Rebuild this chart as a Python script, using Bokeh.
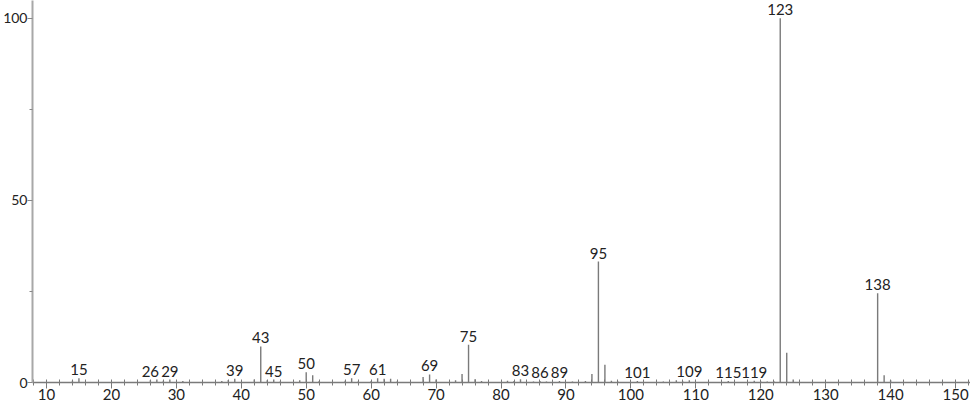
from bokeh.plotting import figure
from bokeh.models import ColumnDataSource, Range1d, FixedTicker
from bokeh.core.properties import value
from bokeh.embed import file_html
from bokeh.resources import INLINE

# m/z values and relative intensities
mz = [14, 15, 26, 27, 28, 29, 31, 37, 38, 39, 42, 43, 44, 45, 46, 49, 50, 51, 52,
      56, 57, 58, 60, 61, 62, 63, 64, 68, 69, 70, 73, 74, 75, 76, 77, 81, 82, 83,
      85, 86, 87, 89, 91, 93, 94, 95, 96, 97, 98, 101, 105, 107, 108, 109, 115,
      119, 120, 121, 122, 123, 124, 125, 138, 139, 140]
intensity = [0.5, 1.2, 0.6, 0.8, 0.5, 0.8, 0.4, 0.4, 0.7, 1.0, 0.8, 9.9, 0.6, 0.8, 0.3,
             0.6, 2.8, 2.0, 0.4, 0.5, 1.2, 0.3, 0.4, 1.2, 1.0, 1.0, 0.3, 1.5, 2.2, 0.8,
             0.6, 2.3, 10.4, 0.9, 0.4, 0.5, 0.4, 0.9, 0.3, 0.4, 0.3, 0.4, 0.3, 0.4, 2.3,
             33.2, 4.9, 0.5, 0.3, 0.4, 0.3, 0.6, 0.3, 0.6, 0.4, 0.5, 0.3, 0.3, 0.4,
             100.0, 8.2, 0.8, 24.5, 2.0, 0.6]
labeled_mz = [15, 26, 29, 39, 43, 45, 50, 57, 61, 69, 75, 83, 86, 89, 95, 101, 109,
              115, 119, 123, 138]
x_ticks = [10, 20, 30, 40, 50, 60, 70, 80, 90, 100, 110, 120, 130, 140, 150]
y_ticks = [0, 50, 100]

FONT = "Lato"

peaks = ColumnDataSource(dict(x=mz, y0=[0] * len(mz), y=intensity))
lab_int = [intensity[mz.index(m)] for m in labeled_mz]
labels = ColumnDataSource(dict(x=labeled_mz, y=lab_int, t=[str(m) for m in labeled_mz]))

p = figure(width=970, height=402, output_backend="svg", toolbar_location=None,
           x_range=Range1d(7.85, 152.3), y_range=Range1d(0, 104.9),
           min_border_left=8, min_border_right=0, min_border_top=0, min_border_bottom=0)
p.outline_line_color = None
p.xgrid.visible = False
p.ygrid.visible = False
p.background_fill_color = "white"
p.border_fill_color = "white"

p.segment(x0="x", y0="y0", x1="x", y1="y", source=peaks,
          line_color="#7a7a7a", line_width=1.4)
p.text(x="x", y="y", text="t", source=labels, y_offset=-3,
       text_align="center", text_baseline="bottom",
       text_font=value(FONT), text_font_size="15px", text_color="#222222")

xa = p.xaxis[0]
xa.ticker = FixedTicker(ticks=x_ticks, minor_ticks=list(range(8, 153, 2)))
xa.axis_line_color = "#7a7a7a"
xa.axis_line_width = 1.3
xa.major_tick_line_color = "#7a7a7a"
xa.major_tick_in = 0
xa.major_tick_out = 6
xa.minor_tick_line_color = "#7a7a7a"
xa.minor_tick_in = 3
xa.minor_tick_out = 3
xa.major_label_text_font = FONT
xa.major_label_text_font_size = "15px"
xa.major_label_text_color = "#222222"
xa.major_label_standoff = 0

ya = p.yaxis[0]
ya.ticker = FixedTicker(ticks=y_ticks, minor_ticks=[25, 75])
ya.axis_line_color = "#a8a8a8"
ya.axis_line_width = 2
ya.major_tick_line_color = "#888888"
ya.major_tick_in = 0
ya.major_tick_out = 5
ya.minor_tick_line_color = "#888888"
ya.minor_tick_in = 0
ya.minor_tick_out = 3
ya.major_label_text_font = FONT
ya.major_label_text_font_size = "14px"
ya.major_label_text_color = "#222222"
ya.major_label_standoff = 0

open("out.html", "w").write(file_html(p, INLINE))
